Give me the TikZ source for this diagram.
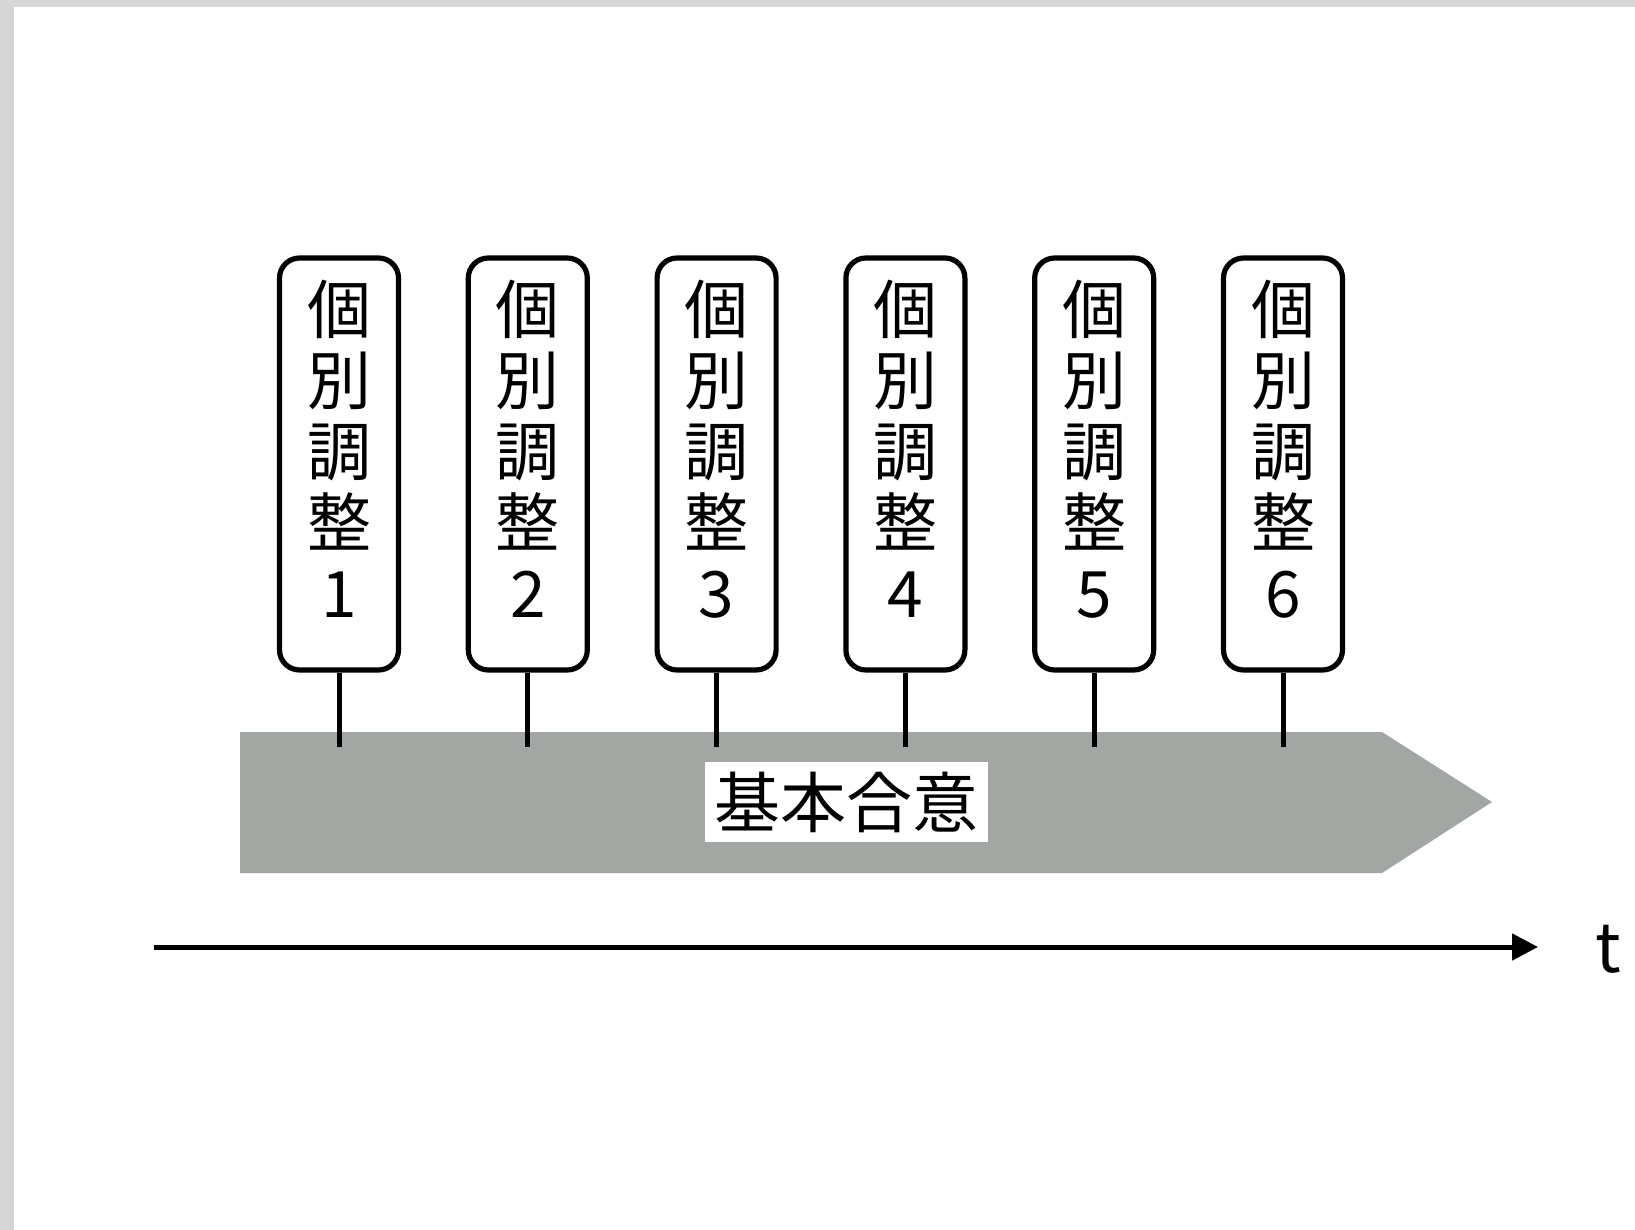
\documentclass[tikz,border=0pt]{standalone}
\usepackage{fontspec}
\newfontfamily\cjk{Noto Sans CJK JP}
\usetikzlibrary{arrows.meta}
\definecolor{bandgrey}{RGB}{163,167,164}
\definecolor{framegrey}{RGB}{214,214,214}
\begin{document}
\begin{tikzpicture}[x=0.5pt,y=-0.5pt,
  tagbox/.style={draw=black,line width=2.6pt,rounded corners=10pt,minimum width=59.5pt,minimum height=206pt,fill=white,inner sep=0pt},
  tagtext/.style={font=\cjk\fontsize{32}{35.5}\selectfont,align=center,inner sep=0pt},
  stem/.style={line width=2.5pt},
  bandlabel/.style={fill=white,font=\cjk\fontsize{33}{40}\selectfont,minimum width=141.5pt,minimum height=40pt,inner sep=0pt},
  axis/.style={line width=2.5pt,-{Triangle[length=13pt,width=13pt]}}]
\useasboundingbox (0,0) rectangle (1635,1230);
\fill[framegrey] (0,0) rectangle (1635,1230);
\fill[white] (14,7) rectangle (1635,1230);
% grey band arrow
\fill[bandgrey] (240,732) -- (1382,732) -- (1492,802) -- (1382,873) -- (240,873) -- cycle;
\node[bandlabel] (base) at (846,802) {基本合意};
% tags
\foreach \i in {1,...,6} {
  \pgfmathsetmacro\xx{339+188.8*(\i-1)}
  \coordinate (s\i) at (\xx,747);
  \node[tagbox] (b\i) at (\xx,464) {};
  \node[tagtext] (l\i) at (\xx,449) {個\\別\\調\\整\\\i};
  \draw[stem] (b\i.south) -- (s\i);
}
% time axis
\coordinate (ax0) at (154,947);
\coordinate (ax1) at (1538,947);
\draw[axis] (ax0) -- (ax1);
\node[font=\cjk\fontsize{34}{40}\selectfont,anchor=base west,inner sep=0pt] (t) at (1595,972) {t};
\end{tikzpicture}
\end{document}
